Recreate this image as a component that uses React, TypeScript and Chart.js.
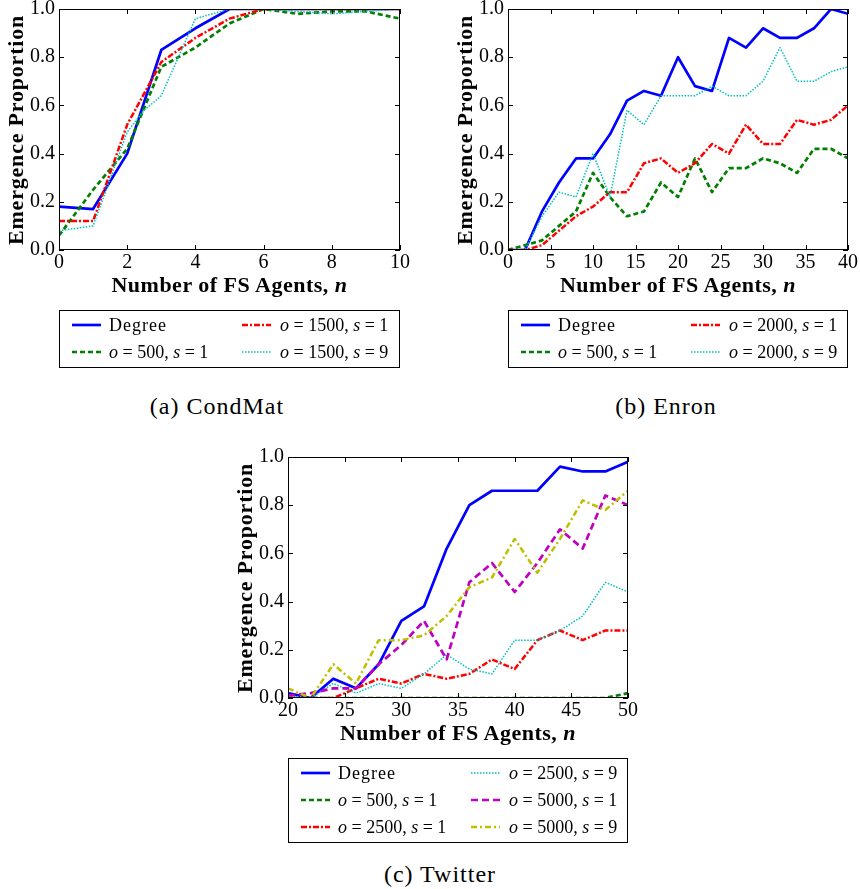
import React, { useEffect, useRef } from "react";
import { Chart, registerables } from "chart.js";

Chart.register(...registerables);

const SERIF = '"Liberation Serif", "DejaVu Serif", serif';

// (a) CondMat
const condMatN = [0, 1, 2, 3, 4, 5, 6, 7, 8, 9, 10];
const condMatDegree = [0.18, 0.17, 0.4, 0.83, 0.92, 1.0, 1.0, 1.0, 1.0, 1.0, 1.0];
const condMatO500S1 = [0.06, 0.25, 0.42, 0.76, 0.84, 0.94, 1.0, 0.98, 0.99, 0.99, 0.96];
const condMatO1500S1 = [0.12, 0.12, 0.52, 0.78, 0.88, 0.96, 1.0, 1.0, 1.0, 1.0, 1.0];
const condMatO1500S9N = [0, 1, 2, 2.5, 3, 3.5, 4, 5, 6, 7, 8, 9, 10];
const condMatO1500S9 = [0.08, 0.1, 0.49, 0.58, 0.64, 0.8, 0.96, 1.0, 1.0, 0.99, 0.98, 0.99, 1.0];

// (b) Enron
const enronN = [0, 2, 4, 6, 8, 10, 12, 14, 16, 18, 20, 22, 24, 26, 28, 30, 32, 34, 36, 38, 40];
const enronDegree = [0, 0, 0.16, 0.28, 0.38, 0.38, 0.48, 0.62, 0.66, 0.64, 0.8, 0.68, 0.66, 0.88, 0.84, 0.92, 0.88, 0.88, 0.92, 1.0, 0.98];
const enronO500S1 = [0, 0.02, 0.04, 0.1, 0.16, 0.32, 0.22, 0.14, 0.16, 0.28, 0.22, 0.38, 0.24, 0.34, 0.34, 0.38, 0.36, 0.32, 0.42, 0.42, 0.38];
const enronO2000S1 = [0, 0, 0.02, 0.08, 0.14, 0.18, 0.24, 0.24, 0.36, 0.38, 0.32, 0.36, 0.44, 0.4, 0.52, 0.44, 0.44, 0.54, 0.52, 0.54, 0.6];
const enronO2000S9 = [0, 0, 0.14, 0.24, 0.22, 0.4, 0.22, 0.58, 0.52, 0.64, 0.64, 0.64, 0.68, 0.64, 0.64, 0.7, 0.84, 0.7, 0.7, 0.74, 0.76];

// (c) Twitter
const twitterN = [20, 22, 24, 26, 28, 30, 32, 34, 36, 38, 40, 42, 44, 46, 48, 50];
const twitterDegree = [0.02, 0.0, 0.08, 0.04, 0.14, 0.32, 0.38, 0.62, 0.8, 0.86, 0.86, 0.86, 0.96, 0.94, 0.94, 0.98];
const twitterO500S1 = [0, 0, 0, 0, 0, 0, 0, 0, 0, 0, 0, 0, 0, 0, 0, 0.02];
const twitterO2500S1 = [0, 0, 0, 0.04, 0.08, 0.06, 0.1, 0.08, 0.1, 0.16, 0.12, 0.24, 0.28, 0.24, 0.28, 0.28];
const twitterO2500S9 = [0.01, 0, 0.06, 0.02, 0.06, 0.04, 0.1, 0.18, 0.12, 0.1, 0.24, 0.24, 0.28, 0.34, 0.48, 0.44];
const twitterO5000S1 = [0.01, 0.02, 0.04, 0.04, 0.14, 0.22, 0.32, 0.16, 0.48, 0.56, 0.44, 0.56, 0.7, 0.62, 0.84, 0.8];
const twitterO5000S9 = [0.04, 0, 0.14, 0.06, 0.24, 0.24, 0.26, 0.34, 0.46, 0.5, 0.66, 0.52, 0.66, 0.82, 0.78, 0.86];

const yTicks = [0, 0.2, 0.4, 0.6, 0.8, 1.0];

type LineStyle = { color: string; width: number; dash: number[] };

const STYLES: Record<string, LineStyle> = {
  degree: { color: "#0000ff", width: 2.7, dash: [] },
  green: { color: "#008000", width: 2.7, dash: [5, 3] },
  red: { color: "#ff0000", width: 2.5, dash: [6, 2, 2, 2] },
  cyan: { color: "#00bfbf", width: 1.5, dash: [1.5, 1.5] },
  magenta: { color: "#bf00bf", width: 2.7, dash: [7, 4] },
  yellow: { color: "#bfbf00", width: 2.5, dash: [6, 3, 2, 3] },
};

type Series = { o?: number; s?: number; xs: number[]; ys: number[]; style: string };

type PanelCfg = {
  id: string;
  caption: string;
  captionX: number;
  captionY: number;
  left: number;
  top: number;
  width: number;
  height: number;
  xMin: number;
  xMax: number;
  xStep: number;
  series: Series[];
};

const panels: PanelCfg[] = [
  {
    id: "a",
    caption: "(a) CondMat",
    captionX: 217,
    captionY: 406,
    left: 59,
    top: 9,
    width: 341,
    height: 241,
    xMin: 0,
    xMax: 10,
    xStep: 2,
    series: [
      { xs: condMatN, ys: condMatDegree, style: "degree" },
      { o: 500, s: 1, xs: condMatN, ys: condMatO500S1, style: "green" },
      { o: 1500, s: 1, xs: condMatN, ys: condMatO1500S1, style: "red" },
      { o: 1500, s: 9, xs: condMatO1500S9N, ys: condMatO1500S9, style: "cyan" },
    ],
  },
  {
    id: "b",
    caption: "(b) Enron",
    captionX: 666,
    captionY: 406,
    left: 508,
    top: 9,
    width: 340,
    height: 241,
    xMin: 0,
    xMax: 40,
    xStep: 5,
    series: [
      { xs: enronN, ys: enronDegree, style: "degree" },
      { o: 500, s: 1, xs: enronN, ys: enronO500S1, style: "green" },
      { o: 2000, s: 1, xs: enronN, ys: enronO2000S1, style: "red" },
      { o: 2000, s: 9, xs: enronN, ys: enronO2000S9, style: "cyan" },
    ],
  },
  {
    id: "c",
    caption: "(c) Twitter",
    captionX: 440,
    captionY: 874,
    left: 288,
    top: 457,
    width: 340,
    height: 241,
    xMin: 20,
    xMax: 50,
    xStep: 5,
    series: [
      { xs: twitterN, ys: twitterDegree, style: "degree" },
      { o: 500, s: 1, xs: twitterN, ys: twitterO500S1, style: "green" },
      { o: 2500, s: 1, xs: twitterN, ys: twitterO2500S1, style: "red" },
      { o: 2500, s: 9, xs: twitterN, ys: twitterO2500S9, style: "cyan" },
      { o: 5000, s: 1, xs: twitterN, ys: twitterO5000S1, style: "magenta" },
      { o: 5000, s: 9, xs: twitterN, ys: twitterO5000S9, style: "yellow" },
    ],
  },
];

const Y_AXIS_SPACE = 59;
const X_AXIS_SPACE = 30;
const PAD_TOP = 20;
const PAD_RIGHT = 20;
const TICK_LEN = 5;

const labelText = (s: Series) => (s.o === undefined ? "Degree" : `o = ${s.o}, s = ${s.s}`);

// Inward tick marks on all four sides plus a black frame around the plot area.
const frameTicks = {
  id: "frameTicks",
  afterDatasetsDraw(chart: any) {
    const { ctx, chartArea: a, scales } = chart;
    ctx.save();
    ctx.strokeStyle = "#000";
    ctx.lineWidth = 1;
    ctx.setLineDash([]);
    ctx.beginPath();
    scales.x.ticks.forEach((t: any) => {
      const px = Math.round(scales.x.getPixelForValue(t.value)) + 0.5;
      ctx.moveTo(px, a.bottom);
      ctx.lineTo(px, a.bottom - TICK_LEN);
      ctx.moveTo(px, a.top);
      ctx.lineTo(px, a.top + TICK_LEN);
    });
    scales.y.ticks.forEach((t: any) => {
      const py = Math.round(scales.y.getPixelForValue(t.value)) + 0.5;
      ctx.moveTo(a.left, py);
      ctx.lineTo(a.left + TICK_LEN, py);
      ctx.moveTo(a.right, py);
      ctx.lineTo(a.right - TICK_LEN, py);
    });
    ctx.stroke();
    ctx.strokeRect(
      Math.round(a.left) + 0.5,
      Math.round(a.top) + 0.5,
      Math.round(a.right - a.left) - 1,
      Math.round(a.bottom - a.top) - 1
    );
    ctx.restore();
  },
};

function PlotCanvas({ cfg }: { cfg: PanelCfg }) {
  const ref = useRef<HTMLCanvasElement>(null);
  const cw = Y_AXIS_SPACE + cfg.width + PAD_RIGHT;
  const ch = PAD_TOP + cfg.height + X_AXIS_SPACE;

  useEffect(() => {
    const chart = new Chart(ref.current!, {
      type: "line",
      data: {
        datasets: cfg.series.map((s, i) => {
          const st = STYLES[s.style];
          return {
            label: labelText(s),
            data: s.xs.map((x, k) => ({ x, y: s.ys[k] })),
            borderColor: st.color,
            backgroundColor: st.color,
            borderWidth: st.width,
            borderDash: st.dash,
            borderCapStyle: "butt" as const,
            borderJoinStyle: "round" as const,
            pointRadius: 0,
            tension: 0,
            fill: false,
            order: -i,
          };
        }),
      },
      options: {
        responsive: false,
        animation: false,
        devicePixelRatio: 1,
        layout: { padding: { left: 0, top: PAD_TOP, right: PAD_RIGHT, bottom: 0 } },
        plugins: { legend: { display: false }, tooltip: { enabled: false } },
        scales: {
          x: {
            type: "linear",
            min: cfg.xMin,
            max: cfg.xMax,
            grid: { display: false, drawTicks: false, tickLength: 0 },
            border: { display: false },
            ticks: {
              stepSize: cfg.xStep,
              autoSkip: false,
              maxRotation: 0,
              padding: 1,
              color: "#000",
              font: { family: SERIF, size: 20 },
              callback: (v: any) => String(v),
            },
            afterFit: (s: any) => {
              s.height = X_AXIS_SPACE;
            },
          },
          y: {
            type: "linear",
            min: 0,
            max: 1,
            grid: { display: false, drawTicks: false, tickLength: 0 },
            border: { display: false },
            afterBuildTicks: (s: any) => {
              s.ticks = yTicks.map((v) => ({ value: v }));
            },
            ticks: {
              padding: 4,
              color: "#000",
              font: { family: SERIF, size: 20 },
              callback: (v: any) => Number(v).toFixed(1),
            },
            afterFit: (s: any) => {
              s.width = Y_AXIS_SPACE;
            },
          },
        },
      },
      plugins: [frameTicks],
    });
    return () => chart.destroy();
  }, [cfg]);

  return (
    <canvas
      ref={ref}
      width={cw}
      height={ch}
      style={{
        position: "absolute",
        left: cfg.left - Y_AXIS_SPACE,
        top: cfg.top - PAD_TOP,
        width: cw,
        height: ch,
      }}
    />
  );
}

function SeriesLabel({ s }: { s: Series }) {
  if (s.o === undefined) return <span style={{ letterSpacing: 1 }}>Degree</span>;
  return (
    <span>
      <i>o</i> = {s.o}, <i>s</i> = {s.s}
    </span>
  );
}

function Legend({ cfg }: { cfg: PanelCfg }) {
  const rows = Math.ceil(cfg.series.length / 2);
  const boxTop = cfg.top + cfg.height + 60;
  const boxH = 31 + (rows - 1) * 27;
  return (
    <div
      style={{
        position: "absolute",
        left: cfg.left,
        top: boxTop,
        width: cfg.width - 2,
        height: boxH - 2,
        border: "1px solid #000",
        fontFamily: SERIF,
        fontSize: 18,
        color: "#000",
      }}
    >
      {cfg.series.map((s, i) => {
        const col = Math.floor(i / rows);
        const row = i % rows;
        const st = STYLES[s.style];
        const sx = col === 0 ? 12 : 182;
        const tx = col === 0 ? 49 : 220;
        const cy = 14 + row * 27;
        return (
          <React.Fragment key={i}>
            <svg
              width={29}
              height={10}
              style={{ position: "absolute", left: sx, top: cy - 5 }}
            >
              <line
                x1={0}
                y1={5}
                x2={29}
                y2={5}
                stroke={st.color}
                strokeWidth={st.width}
                strokeDasharray={st.dash.length ? st.dash.join(" ") : undefined}
              />
            </svg>
            <div
              style={{
                position: "absolute",
                left: tx,
                top: cy - 11,
                lineHeight: "22px",
                whiteSpace: "nowrap",
              }}
            >
              <SeriesLabel s={s} />
            </div>
          </React.Fragment>
        );
      })}
    </div>
  );
}

function Panel({ cfg }: { cfg: PanelCfg }) {
  const cx = cfg.left + cfg.width / 2;
  const cy = cfg.top + cfg.height / 2;
  return (
    <>
      <PlotCanvas cfg={cfg} />
      <div
        style={{
          position: "absolute",
          left: cfg.left - 43,
          top: cy,
          transform: "translate(-50%, -50%) rotate(-90deg)",
          fontFamily: SERIF,
          fontWeight: "bold",
          fontSize: 22,
          letterSpacing: 0.8,
          whiteSpace: "nowrap",
          lineHeight: "24px",
        }}
      >
        Emergence Proportion
      </div>
      <div
        style={{
          position: "absolute",
          left: cx,
          top: cfg.top + cfg.height + 35,
          transform: "translate(-50%, -50%)",
          fontFamily: SERIF,
          fontWeight: "bold",
          fontSize: 22,
          letterSpacing: 0.5,
          whiteSpace: "nowrap",
          lineHeight: "24px",
        }}
      >
        Number of FS Agents, <i>n</i>
      </div>
      <Legend cfg={cfg} />
      <div
        style={{
          position: "absolute",
          left: cfg.captionX,
          top: cfg.captionY,
          transform: "translate(-50%, -50%)",
          fontFamily: SERIF,
          fontSize: 24,
          letterSpacing: 1,
          whiteSpace: "nowrap",
          lineHeight: "26px",
        }}
      >
        {cfg.caption}
      </div>
    </>
  );
}

export default function App() {
  return (
    <div
      style={{
        position: "absolute",
        left: 0,
        top: 0,
        width: 860,
        height: 889,
        background: "#fff",
        overflow: "hidden",
      }}
    >
      {panels.map((p) => (
        <Panel key={p.id} cfg={p} />
      ))}
    </div>
  );
}
